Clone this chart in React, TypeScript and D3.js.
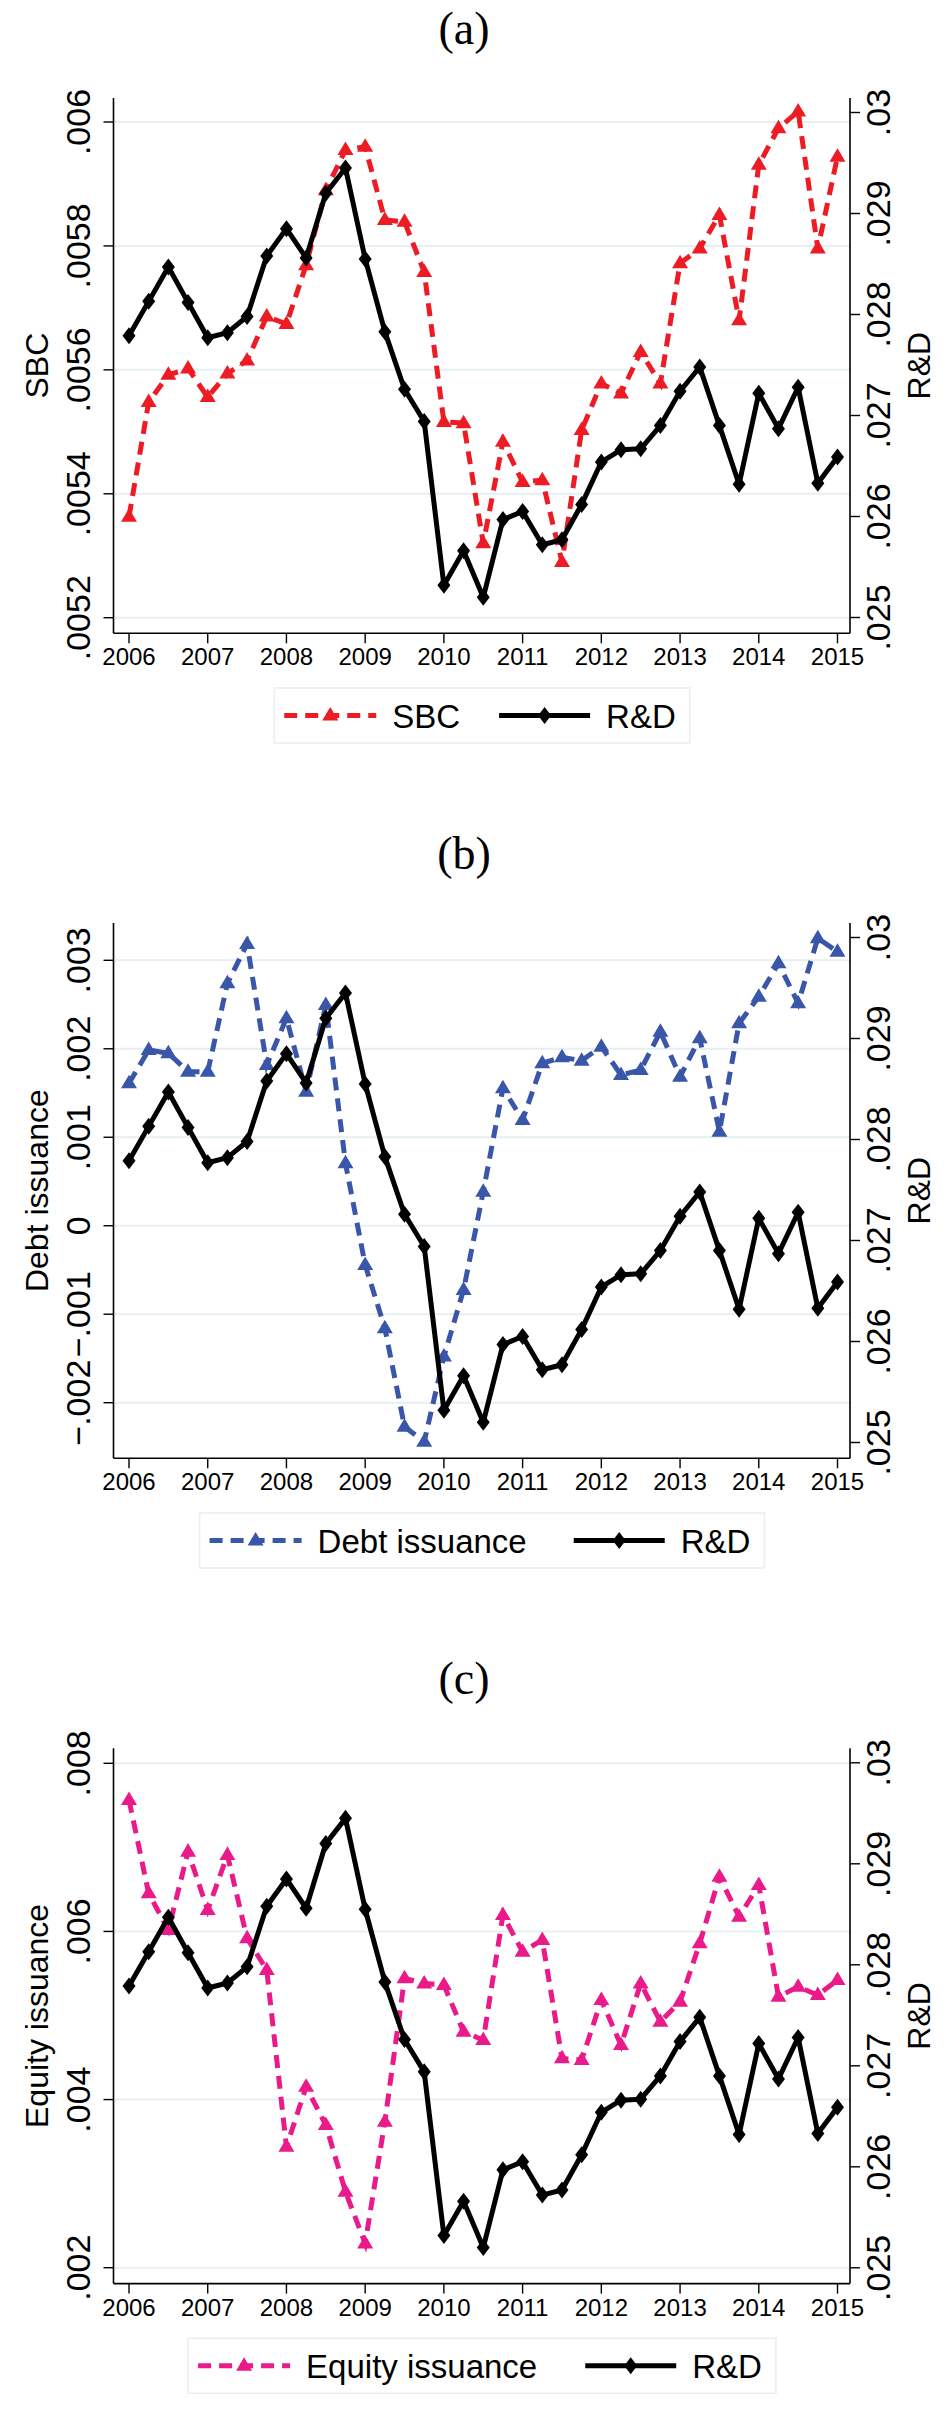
import React from 'react';
import * as d3 from 'd3';

// quarterly observations, 2006q1 .. 2015q1
const quarters = [
  2006, 2006.25, 2006.5, 2006.75, 2007, 2007.25, 2007.5, 2007.75,
  2008, 2008.25, 2008.5, 2008.75, 2009, 2009.25, 2009.5, 2009.75,
  2010, 2010.25, 2010.5, 2010.75, 2011, 2011.25, 2011.5, 2011.75,
  2012, 2012.25, 2012.5, 2012.75, 2013, 2013.25, 2013.5, 2013.75,
  2014, 2014.25, 2014.5, 2014.75, 2015,
];
const yearTicks = [2006, 2007, 2008, 2009, 2010, 2011, 2012, 2013, 2014, 2015];

const rdValues = [
  0.02779, 0.02813, 0.02847, 0.02812, 0.02777, 0.02782, 0.02798, 0.02858,
  0.02885, 0.02856, 0.0292, 0.02945, 0.02855, 0.02783, 0.02726, 0.02694,
  0.02532, 0.02566, 0.0252, 0.02597, 0.02605, 0.02572, 0.02577, 0.02612,
  0.02654, 0.02666, 0.02667, 0.0269, 0.02724, 0.02748, 0.0269, 0.02632,
  0.02722, 0.02687, 0.02728, 0.02633, 0.02659,
];
const sbcValues = [
  0.005363, 0.005548, 0.005592, 0.005602, 0.005556, 0.005594, 0.005615, 0.005686,
  0.005674, 0.005769, 0.00589, 0.005955, 0.00596, 0.005842, 0.005839, 0.005758,
  0.005516, 0.005514, 0.00532, 0.005484, 0.005419, 0.005422, 0.00529, 0.005503,
  0.005578, 0.005562, 0.005629, 0.005578, 0.005772, 0.005796, 0.00585, 0.00568,
  0.005931, 0.00599, 0.006017, 0.005796, 0.005944,
];
const debtValues = [
  0.00161, 0.001986, 0.001949, 0.001741, 0.001741, 0.00274, 0.003184, 0.001817,
  0.002345, 0.001515, 0.002495, 0.000706, -0.000443, -0.001158, -0.002271, -0.00244,
  -0.001479, -0.000725, 0.000385, 0.001554, 0.001196, 0.001836, 0.001904, 0.001866,
  0.002024, 0.001704, 0.00176, 0.002193, 0.001685, 0.002119, 0.001063, 0.002288,
  0.002589, 0.002966, 0.002514, 0.003249, 0.003097,
];
const equityValues = [
  0.007563, 0.006453, 0.006017, 0.006948, 0.006255, 0.006909, 0.005918, 0.005541,
  0.003438, 0.004152, 0.003697, 0.002903, 0.002289, 0.003736, 0.005442, 0.005382,
  0.005362, 0.004807, 0.004708, 0.006195, 0.005758, 0.005898, 0.00449, 0.00447,
  0.005184, 0.004648, 0.005382, 0.004926, 0.005164, 0.005858, 0.006651, 0.006175,
  0.006552, 0.005223, 0.005342, 0.005243, 0.005422,
];

const rdTicks = [0.025, 0.026, 0.027, 0.028, 0.029, 0.03];
const rdTickLabels = ['.025', '.026', '.027', '.028', '.029', '.03'];
const sbcTicks = [0.0052, 0.0054, 0.0056, 0.0058, 0.006];
const sbcTickLabels = ['.0052', '.0054', '.0056', '.0058', '.006'];
const debtTicks = [-0.002, -0.001, 0, 0.001, 0.002, 0.003];
const debtTickLabels = ['\u2212.002', '\u2212.001', '0', '.001', '.002', '.003'];
const equityTicks = [0.002, 0.004, 0.006, 0.008];
const equityTickLabels = ['.002', '.004', '.006', '.008'];

const W = 947;
const H = 2417;
const LEFT = 113.5;
const RIGHT = 850;
const TOP = 98;
const BOTTOM = 633.3;
const SANS = '"Liberation Sans", Arial, Helvetica, sans-serif';
const GRID = '#e6eff1';

const panels = [
  {
    oy: 0, title: '(a)', name: 'SBC', values: sbcValues, color: '#ed1c24',
    ticks: sbcTicks, tickLabels: sbcTickLabels, range: [617.7, 122], legendGap: 39,
  },
  {
    oy: 825, title: '(b)', name: 'Debt issuance', values: debtValues, color: '#3a56a8',
    ticks: debtTicks, tickLabels: debtTickLabels, range: [577.7, 135.3], legendGap: 47,
  },
  {
    oy: 1650.3, title: '(c)', name: 'Equity issuance', values: equityValues, color: '#ea1a8a',
    ticks: equityTicks, tickLabels: equityTickLabels, range: [617.4, 113], legendGap: 48,
  },
];

const measure = (s: string, size: number) => {
  const c = document.createElement('canvas').getContext('2d');
  if (!c) return s.length * size * 0.55;
  c.font = `${size}px "Liberation Sans"`;
  return c.measureText(s).width;
};

const tri = 'M0,-8.5L8,5L-8,5Z';
const diamond = 'M0,-8.5L6.5,0L0,8.5L-6.5,0Z';

const x = d3.scaleLinear().domain([2006, 2015]).range([129, 837.5]);

const Panel = ({p}: {p: typeof panels[number]}) => {
  const yL = d3.scaleLinear()
    .domain([p.ticks[0], p.ticks[p.ticks.length - 1]])
    .range(p.range);
  const yR = d3.scaleLinear().domain([0.025, 0.03]).range([617.5, 112.5]);
  const lineL = d3.line<number>().x((_, i) => x(quarters[i])).y(d => yL(d));
  const lineR = d3.line<number>().x((_, i) => x(quarters[i])).y(d => yR(d));

  // legend layout
  const fs = 33;
  const w1 = measure(p.name, fs);
  const w2 = measure('R&D', fs);
  const boxW = 10 + 92 + 16 + w1 + p.legendGap + 91 + 16 + w2 + 14;
  const boxX = 482 - boxW / 2;
  const boxY = BOTTOM + 54.7;
  const ly = boxY + 27.5;
  const l1 = boxX + 10;
  const t1 = l1 + 92 + 16;
  const l2 = t1 + w1 + p.legendGap;
  const t2 = l2 + 91 + 16;

  return (
    <g transform={`translate(0,${p.oy})`}>
      <text x={464} y={44} textAnchor="middle"
            style={{font: '46px "Liberation Serif", "Times New Roman", serif'}}>{p.title}</text>

      {/* grid */}
      {p.ticks.map(t => (
        <line key={t} x1={LEFT} x2={RIGHT} y1={yL(t)} y2={yL(t)} stroke={GRID} strokeWidth={2}/>
      ))}

      {/* axes */}
      <line x1={LEFT} x2={LEFT} y1={TOP} y2={BOTTOM} stroke="#000" strokeWidth={1.6}/>
      <line x1={RIGHT} x2={RIGHT} y1={TOP} y2={BOTTOM} stroke="#000" strokeWidth={1.6}/>
      <line x1={LEFT} x2={RIGHT} y1={BOTTOM} y2={BOTTOM} stroke="#000" strokeWidth={1.6}/>

      {p.ticks.map((t, i) => (
        <g key={'l' + t}>
          <line x1={LEFT - 10} x2={LEFT} y1={yL(t)} y2={yL(t)} stroke="#000" strokeWidth={1.4}/>
          <text transform={`translate(90,${yL(t)}) rotate(-90)`} textAnchor="middle"
                style={{font: `34px ${SANS}`}}>{p.tickLabels[i]}</text>
        </g>
      ))}
      {rdTicks.map((t, i) => (
        <g key={'r' + t}>
          <line x1={RIGHT} x2={RIGHT + 10} y1={yR(t)} y2={yR(t)} stroke="#000" strokeWidth={1.4}/>
          <text transform={`translate(890,${yR(t)}) rotate(-90)`} textAnchor="middle"
                style={{font: `34px ${SANS}`}}>{rdTickLabels[i]}</text>
        </g>
      ))}
      {yearTicks.map(t => (
        <g key={'x' + t}>
          <line x1={x(t)} x2={x(t)} y1={BOTTOM} y2={BOTTOM + 10} stroke="#000" strokeWidth={1.4}/>
          <text x={x(t)} y={BOTTOM + 32} textAnchor="middle"
                style={{font: `24px ${SANS}`}}>{t}</text>
        </g>
      ))}

      <text transform={`translate(48,${(TOP + BOTTOM) / 2}) rotate(-90)`} textAnchor="middle"
            style={{font: `32px ${SANS}`}}>{p.name}</text>
      <text transform={`translate(930,${(TOP + BOTTOM) / 2}) rotate(-90)`} textAnchor="middle"
            style={{font: `32px ${SANS}`}}>R&amp;D</text>

      {/* series */}
      <path d={lineL(p.values) || ''} fill="none" stroke={p.color} strokeWidth={5}
            strokeDasharray="13 8"/>
      {p.values.map((v, i) => (
        <path key={'m' + i} d={tri} transform={`translate(${x(quarters[i])},${yL(v)})`} fill={p.color}/>
      ))}
      <path d={lineR(rdValues) || ''} fill="none" stroke="#000" strokeWidth={5}
            strokeLinejoin="round"/>
      {rdValues.map((v, i) => (
        <path key={'d' + i} d={diamond} transform={`translate(${x(quarters[i])},${yR(v)})`} fill="#000"/>
      ))}

      {/* legend */}
      <rect x={boxX} y={boxY} width={boxW} height={55} fill="#fff" stroke={GRID} strokeWidth={1.5}/>
      <line x1={l1} x2={l1 + 92} y1={ly} y2={ly} stroke={p.color} strokeWidth={5} strokeDasharray="13 8"/>
      <path d={tri} transform={`translate(${l1 + 46},${ly})`} fill={p.color}/>
      <text x={t1} y={ly + 12} style={{font: `${fs}px ${SANS}`}}>{p.name}</text>
      <line x1={l2} x2={l2 + 91} y1={ly} y2={ly} stroke="#000" strokeWidth={5}/>
      <path d={diamond} transform={`translate(${l2 + 45.5},${ly})`} fill="#000"/>
      <text x={t2} y={ly + 12} style={{font: `${fs}px ${SANS}`}}>R&amp;D</text>
    </g>
  );
}

export default function App() {
  return (
    <svg width={W} height={H} viewBox={`0 0 ${W} ${H}`}
         style={{position: 'absolute', left: 0, top: 0, background: '#fff'}}>
      <rect width={W} height={H} fill="#fff"/>
      {panels.map(p => <Panel key={p.title} p={p}/>)}
    </svg>
  );
}
